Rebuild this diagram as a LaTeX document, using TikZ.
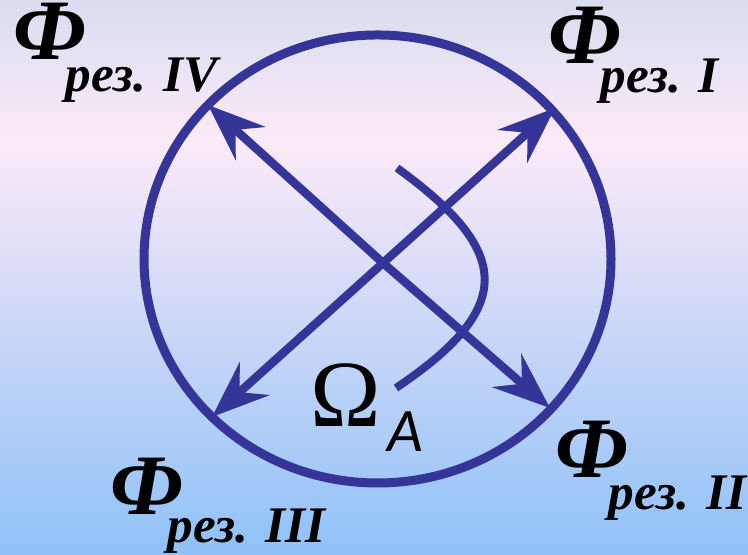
\documentclass[tikz,border=0pt]{standalone}
\usepackage{fontspec}
\setmainfont{Liberation Serif}
\newfontfamily\calibfont{Carlito}
\usepackage{tikz}
\usetikzlibrary{arrows.meta,positioning,calc}
\usepackage{xcolor}
\definecolor{vecblue}{RGB}{53,53,153}
\definecolor{bgtop}{RGB}{216,221,240}
\definecolor{bgpink}{RGB}{252,234,248}
\definecolor{bgbottom}{RGB}{143,193,247}

\begin{document}
\begin{tikzpicture}[
  vec/.style={vecblue, line width=0.085cm,
    -{Stealth[length=0.57cm, width=0.44cm, inset=0.2cm]}},
  flux/.style={inner sep=0pt, anchor=base west,
    font=\fontsize{24.5}{27}\selectfont\bfseries\itshape},
  fluxsub/.style={inner sep=0pt, anchor=base west,
    font=\fontsize{14.6}{17}\selectfont\bfseries\itshape}
]
  % Background gradient
  \shade[top color=bgtop, bottom color=bgpink] (0,4.14) rectangle (7.48,5.55);
  \shade[top color=bgpink, bottom color=bgbottom] (0,0) rectangle (7.48,4.15);
  \useasboundingbox (0,0) rectangle (7.48,5.55);
  % Stator circle
  \draw[vecblue, line width=0.09cm] (3.775,2.96) ellipse (2.335 and 2.24);
  % Resultant flux vectors
  \coordinate (O) at (3.83,2.92);
  \coordinate (r1) at (5.55,4.47);
  \coordinate (r2) at (5.50,1.47);
  \coordinate (r3) at (2.12,1.38);
  \coordinate (r4) at (2.08,4.50);
  \draw[vec] (O) -- (r1);
  \draw[vec] (O) -- (r2);
  \draw[vec] (O) -- (r3);
  \draw[vec] (O) -- (r4);
  % Rotation arc
  \coordinate (arcS) at (3.97,3.87);
  \coordinate (arcE) at (3.96,1.67);
  \draw[vecblue, line width=0.08cm]
    (arcS) .. controls (5.13,3.03) and (5.15,2.47) .. (arcE);
  % Flux labels
  \node[flux] (f1) at (5.48,4.91) {Ф};
  \node[fluxsub] (s1) at (6.00,4.62) {рез. I};
  \node[flux] (f2) at (5.55,0.77) {Ф};
  \node[fluxsub] (s2) at (6.08,0.45) {рез. II};
  \node[flux] (f3) at (1.10,0.40) {Ф};
  \node[fluxsub] (s3) at (1.67,0.12) {рез. III};
  \node[flux] (f4) at (0.13,4.95) {Ф};
  \node[fluxsub] (s4) at (0.65,4.63) {рез. IV};
  % Angular speed label
  \node[inner sep=0pt, anchor=base west, font=\fontsize{27}{30}\selectfont]
    (om) at (3.10,1.28) {Ω};
  \node[inner sep=0pt, anchor=base west,
    font=\fontsize{17.6}{20}\selectfont\calibfont\itshape]
    (omA) at (3.87,1.03) {A};
\end{tikzpicture}
\end{document}
